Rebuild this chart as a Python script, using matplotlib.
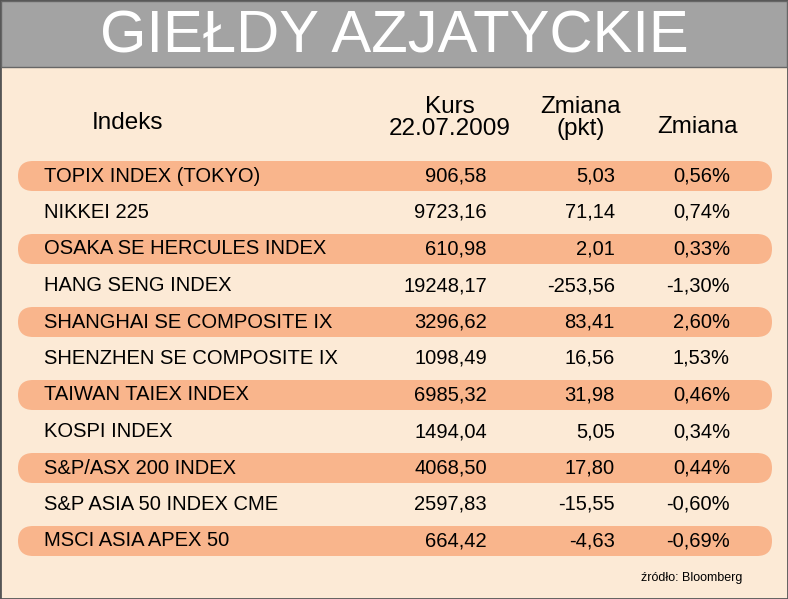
import matplotlib
matplotlib.use("Agg")
import matplotlib.pyplot as plt
from matplotlib.patches import FancyBboxPatch, Rectangle

names = ["TOPIX INDEX (TOKYO)", "NIKKEI 225", "OSAKA SE HERCULES INDEX", "HANG SENG INDEX",
         "SHANGHAI SE COMPOSITE IX", "SHENZHEN SE COMPOSITE IX", "TAIWAN TAIEX INDEX",
         "KOSPI INDEX", "S&P/ASX 200 INDEX", "S&P ASIA 50 INDEX CME", "MSCI ASIA APEX 50"]
kurs = ["906,58", "9723,16", "610,98", "19248,17", "3296,62", "1098,49", "6985,32",
        "1494,04", "4068,50", "2597,83", "664,42"]
zmiana_pkt = ["5,03", "71,14", "2,01", "-253,56", "83,41", "16,56", "31,98",
              "5,05", "17,80", "-15,55", "-4,63"]
zmiana_pct = ["0,56%", "0,74%", "0,33%", "-1,30%", "2,60%", "1,53%", "0,46%",
              "0,34%", "0,44%", "-0,60%", "-0,69%"]

W, H = 788, 599
plt.rcParams['font.family'] = ['Liberation Sans', 'DejaVu Sans']
fig = plt.figure(figsize=(W/100, H/100), dpi=100)
ax = fig.add_axes([0, 0, 1, 1])
ax.set_xlim(0, W)
ax.set_ylim(H, 0)
ax.axis("off")

bg = "#FCEAD6"
ax.add_patch(Rectangle((0, 0), W, H, facecolor=bg, edgecolor="#555555", lw=2))
ax.add_patch(Rectangle((1, 1), W-2, 66, facecolor="#A3A3A3", edgecolor="#666666", lw=1))
ax.text(W/2, 37, "GIEŁDY AZJATYCKIE", color="white", fontsize=43, ha="center", va="center")

# headers
hs = 17.5
ax.text(128, 123, "Indeks", fontsize=hs, ha="center", va="center")
ax.text(450, 118, "Kurs\n22.07.2009", fontsize=hs, ha="center", va="center", linespacing=1.05)
ax.text(581, 118, "Zmiana\n(pkt)", fontsize=hs, ha="center", va="center", linespacing=1.05)
ax.text(698, 127, "Zmiana", fontsize=hs, ha="center", va="center")

y0, dy = 176, 36.5
fs = 14.5
for i in range(len(names)):
    y = y0 + i * dy
    if i % 2 == 0:
        ax.add_patch(FancyBboxPatch((18, y - 15), 754, 30,
                                    boxstyle="round,pad=0,rounding_size=15",
                                    facecolor="#F9B58C", edgecolor="none"))
    ax.text(44, y, names[i], fontsize=fs, ha="left", va="center")
    ax.text(487, y, kurs[i], fontsize=fs, ha="right", va="center")
    ax.text(615, y, zmiana_pkt[i], fontsize=fs, ha="right", va="center")
    ax.text(730, y, zmiana_pct[i], fontsize=fs, ha="right", va="center")

ax.text(742, 578, "źródło: Bloomberg", fontsize=9, ha="right", va="center")
fig.savefig("out.png", dpi=100)
